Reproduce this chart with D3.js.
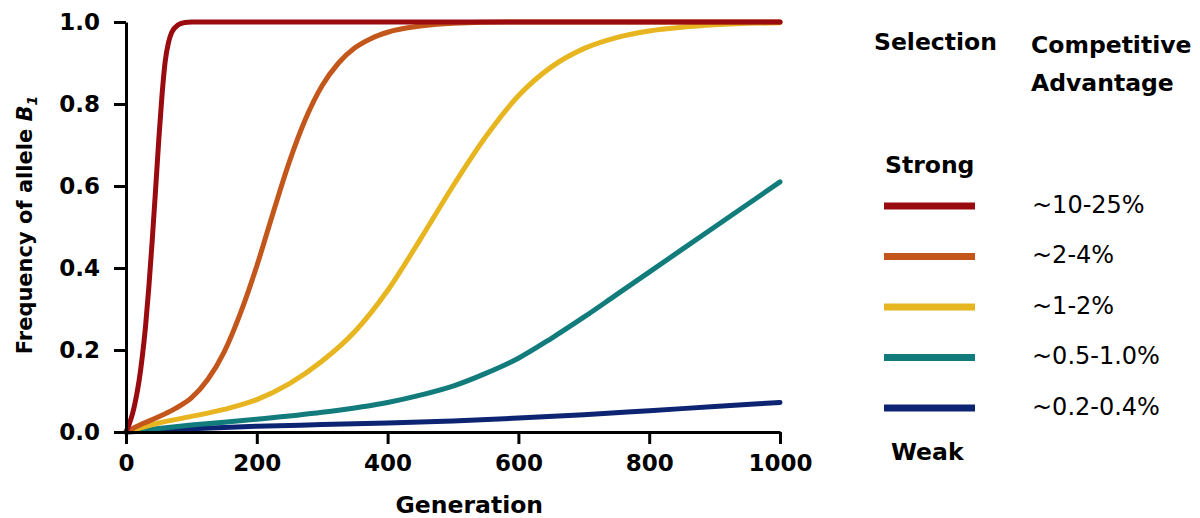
<!DOCTYPE html>
<html>
<head>
<meta charset="utf-8">
<script src="https://cdn.jsdelivr.net/npm/d3@7"></script>
<style>
  body { margin: 0; background: #fff; }
  text { font-family: 'DejaVu Sans', sans-serif; fill: #000; }
</style>
</head>
<body>
<div id="chart"></div>
<script>
// values: [generation, frequency of B1]
const strongSel = [[0,0],[5,0.02],[10,0.045],[15,0.08],[20,0.125],[25,0.185],[30,0.26],[35,0.355],[40,0.465],[45,0.585],[50,0.71],[55,0.82],[60,0.905],[65,0.95],[70,0.975],[80,0.993],[90,0.999],[100,1],[1000,1]];
const fairSel = [[0,0],[25,0.02],[50,0.037],[75,0.057],[100,0.083],[125,0.128],[150,0.195],[175,0.29],[200,0.405],[225,0.535],[250,0.66],[275,0.765],[300,0.845],[325,0.9],[350,0.937],[375,0.96],[400,0.975],[450,0.99],[500,0.997],[600,1],[1000,1]];
const midSel = [[0,0],[50,0.022],[100,0.038],[150,0.055],[200,0.079],[250,0.118],[300,0.173],[350,0.245],[400,0.345],[450,0.47],[500,0.6],[550,0.72],[600,0.82],[650,0.89],[700,0.935],[750,0.962],[800,0.978],[850,0.987],[900,0.993],[1000,0.998]];
const lowSel = [[0,0],[100,0.017],[200,0.031],[300,0.048],[400,0.072],[450,0.09],[500,0.112],[550,0.143],[600,0.18],[650,0.228],[700,0.28],[750,0.335],[800,0.39],[900,0.5],[1000,0.61]];
const weakSel = [[0,0],[100,0.008],[200,0.014],[300,0.018],[400,0.022],[500,0.027],[600,0.034],[700,0.042],[800,0.052],[900,0.062],[1000,0.072]];

const advantages = ['~10-25%', '~2-4%', '~1-2%', '~0.5-1.0%', '~0.2-0.4%'];
const colors = ['#9a0b10', '#c2561b', '#e6b51f', '#127b7b', '#0c2472'];
const xTicks = [0, 200, 400, 600, 800, 1000];
const yTicks = [0, 0.2, 0.4, 0.6, 0.8, 1.0];

const series = [strongSel, fairSel, midSel, lowSel, weakSel];

const width = 1200;
const height = 518;
const margin = { top: 22, right: 420, bottom: 86, left: 126 };

const svg = d3
  .select('#chart')
  .append('svg')
  .attr('width', width)
  .attr('height', height);

const xScale = d3
  .scaleLinear()
  .domain([0, 1000])
  .range([margin.left, width - margin.right]);

const yScale = d3
  .scaleLinear()
  .domain([0, 1])
  .range([height - margin.bottom, margin.top]);

// curves (drawn under the axes, weakest first)
const line = d3
  .line()
  .x((d) => xScale(d[0]))
  .y((d) => yScale(d[1]))
  .curve(d3.curveMonotoneX);

svg
  .selectAll('path.curve')
  .data(series.map((s, i) => ({ s, i })).reverse())
  .enter()
  .append('path')
  .attr('class', 'curve')
  .attr('d', (d) => line(d.s))
  .attr('fill', 'none')
  .attr('stroke', (d) => colors[d.i])
  .attr('stroke-width', 5)
  .attr('stroke-linecap', 'round');

// Axes
const xAxis = svg
  .append('g')
  .attr('transform', `translate(0,${height - margin.bottom})`)
  .call(
    d3.axisBottom(xScale).tickValues(xTicks).tickSize(12).tickSizeOuter(0).tickPadding(11)
      .tickFormat(d3.format('d')),
  );

const yAxis = svg
  .append('g')
  .attr('transform', `translate(${margin.left},0)`)
  .call(
    d3.axisLeft(yScale).tickValues(yTicks).tickSize(12).tickSizeOuter(0).tickPadding(14)
      .tickFormat(d3.format('.1f')),
  );

[xAxis, yAxis].forEach((ax) => {
  ax.select('.domain').attr('stroke', '#000').attr('stroke-width', 3);
  ax.selectAll('.tick line').attr('stroke', '#000').attr('stroke-width', 3);
  ax.selectAll('text')
    .style('font-family', "'DejaVu Sans', sans-serif")
    .style('font-size', '23px')
    .style('font-weight', 'bold')
    .attr('fill', '#000');
});

// Axis titles
svg
  .append('text')
  .attr('x', xScale(525))
  .attr('y', 513)
  .attr('text-anchor', 'middle')
  .style('font-size', '23.5px')
  .style('font-weight', 'bold')
  .text('Generation');

const yTitle = svg
  .append('text')
  .attr('transform', 'translate(32,225) rotate(-90)')
  .attr('text-anchor', 'middle')
  .style('font-size', '21px')
  .style('font-weight', 'bold');
yTitle.append('tspan').text('Frequency of allele ');
yTitle.append('tspan').style('font-style', 'italic').text('B');
yTitle
  .append('tspan')
  .style('font-style', 'italic')
  .style('font-size', '14px')
  .attr('dy', 5)
  .text('1');

// Legend
const legend = svg.append('g');

legend
  .append('text')
  .attr('x', 874)
  .attr('y', 50)
  .style('font-size', '23.5px')
  .style('font-weight', 'bold')
  .text('Selection');

legend
  .append('text')
  .attr('x', 1031)
  .attr('y', 53)
  .style('font-size', '23.5px')
  .style('font-weight', 'bold')
  .text('Competitive');

legend
  .append('text')
  .attr('x', 1031)
  .attr('y', 91)
  .style('font-size', '23.5px')
  .style('font-weight', 'bold')
  .text('Advantage');

legend
  .append('text')
  .attr('x', 885)
  .attr('y', 173)
  .style('font-size', '23.5px')
  .style('font-weight', 'bold')
  .text('Strong');

legend
  .append('text')
  .attr('x', 891)
  .attr('y', 460)
  .style('font-size', '23.5px')
  .style('font-weight', 'bold')
  .text('Weak');

const legendY = d3
  .scalePoint()
  .domain(advantages)
  .range([206, 408]);

legend
  .selectAll('line.key')
  .data(advantages)
  .enter()
  .append('line')
  .attr('class', 'key')
  .attr('x1', 884)
  .attr('x2', 975)
  .attr('y1', (d) => legendY(d))
  .attr('y2', (d) => legendY(d))
  .attr('stroke', (d, i) => colors[i])
  .attr('stroke-width', 7);

legend
  .selectAll('text.adv')
  .data(advantages)
  .enter()
  .append('text')
  .attr('class', 'adv')
  .attr('x', 1032)
  .attr('y', (d) => legendY(d) + 6.5)
  .style('font-size', '24px')
  .text((d) => d);
</script>
</body>
</html>
